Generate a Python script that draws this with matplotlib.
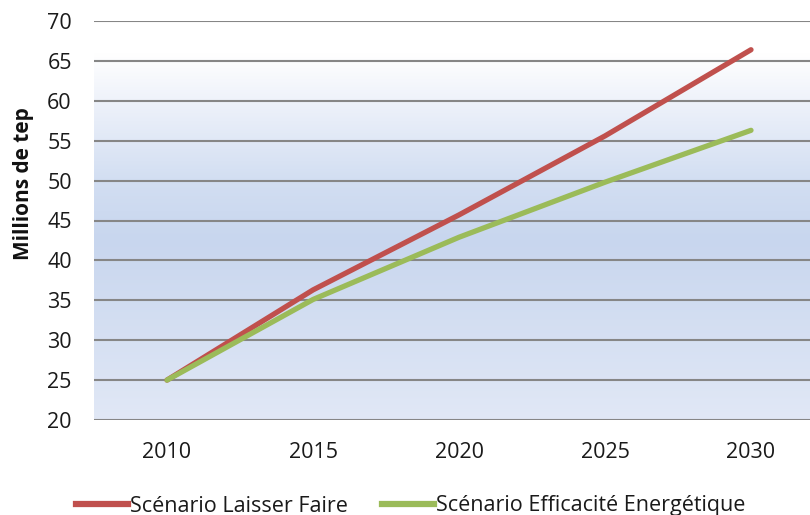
import matplotlib.pyplot as plt
import numpy as np
from matplotlib.colors import LinearSegmentedColormap
from matplotlib.lines import Line2D

years = ["2010", "2015", "2020", "2025", "2030"]
laisser_faire = [25.0, 36.3, 45.7, 55.6, 66.4]
efficacite = [25.0, 35.1, 42.9, 49.8, 56.3]
y_ticks = [20, 25, 30, 35, 40, 45, 50, 55, 60, 65, 70]

red = "#C0504D"
green = "#9BBB59"

plt.rcParams["font.family"] = ["Open Sans", "DejaVu Sans"]

fig = plt.figure(figsize=(8.1, 5.15), dpi=100)
ax = fig.add_axes([94 / 810, 1 - 420 / 515, 730 / 810, 399 / 515])

# background gradient (bottom -> top)
bg = LinearSegmentedColormap.from_list("bg", [
    (0.0, (225 / 255, 232 / 255, 246 / 255)),
    (0.45, (200 / 255, 214 / 255, 238 / 255)),
    (0.6, (210 / 255, 222 / 255, 242 / 255)),
    (0.8, (238 / 255, 242 / 255, 250 / 255)),
    (0.92, (255 / 255, 255 / 255, 255 / 255)),
    (1.0, (255 / 255, 255 / 255, 255 / 255)),
])
grad = np.linspace(0, 1, 256).reshape(-1, 1)
ax.imshow(grad, aspect="auto", cmap=bg, origin="lower",
          extent=[0, 1, 0, 1], transform=ax.transAxes, zorder=0)

x = np.arange(len(years))
ax.plot(x, laisser_faire, color=red, lw=3.8, solid_capstyle="round", zorder=3)
ax.plot(x, efficacite, color=green, lw=3.8, solid_capstyle="round", zorder=4)

ax.set_xlim(-0.5, len(years) - 0.5)
ax.set_ylim(20, 70)
ax.set_yticks(y_ticks)
ax.set_xticks(x)
ax.set_xticklabels(years)
for yv in y_ticks:
    ax.axhline(yv, color="#868686", lw=1.5, zorder=2)
ax.tick_params(length=0, labelsize=15.5, colors="#1a1a1a", pad=16)
ax.tick_params(axis="x", pad=16)
for s in ax.spines.values():
    s.set_visible(False)

fig.text(24 / 810, 1 - 184 / 515, "Millions de tep", rotation=90, ha="center",
         va="center", fontsize=15, fontweight="bold", color="#111111")

handles = [Line2D([], [], color=red, lw=4.5), Line2D([], [], color=green, lw=4.5)]
leg = fig.legend(handles, ["Scénario Laisser Faire", "Scénario Efficacité Energétique"],
                 loc="center left", bbox_to_anchor=(76 / 810, 1 - 506 / 515), ncol=2,
                 frameon=False, fontsize=15.5, handlelength=2.4, handletextpad=0.1,
                 columnspacing=1.6, borderpad=0, borderaxespad=0)
for t in leg.get_texts():
    t.set_color("#1a1a1a")

fig.savefig("out.png", dpi=100)
